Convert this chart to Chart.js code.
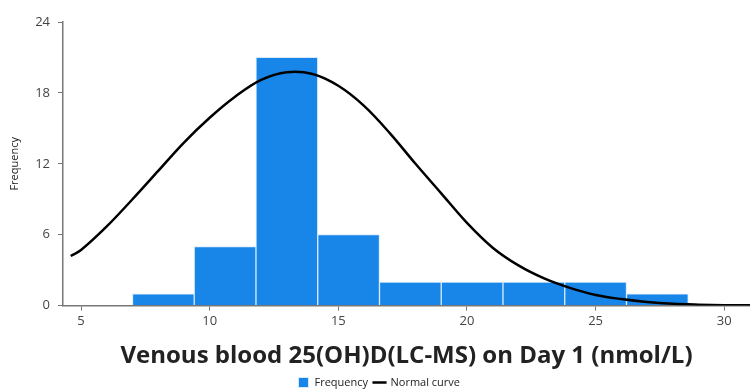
<!DOCTYPE html>
<html>
<head>
<meta charset="utf-8">
<script src="https://cdn.jsdelivr.net/npm/chart.js@4"></script>
<style>
  html, body { margin: 0; padding: 0; background: #ffffff; }
  #wrap { width: 750px; height: 389px; }
</style>
</head>
<body>
<div id="wrap"><canvas id="grafico"></canvas></div>
<script>
// bin centres (bin width 2.4) and counts
const centrosBarras = [8.2, 10.6, 13.0, 15.4, 17.8, 20.2, 22.6, 25.0, 27.4];
const frecuencias = [1, 5, 21, 6, 2, 2, 2, 2, 1];

// normal curve
const curvaX = [4.6, 5, 6, 7, 8, 9, 10, 11, 12, 13, 14, 15, 16, 17, 18, 19, 20, 21, 22, 23, 24, 25, 26, 27, 28, 29, 30, 31];
const curvaY = [4.2, 4.7, 6.7, 9.0, 11.4, 13.8, 15.9, 17.7, 19.1, 19.75, 19.6, 18.6, 16.9, 14.6, 12.0, 9.5, 7.0, 4.9, 3.4, 2.3, 1.5, 0.9, 0.55, 0.3, 0.15, 0.08, 0.04, 0.02];

const ticksX = [5, 10, 15, 20, 25, 30];
const ticksY = [0, 6, 12, 18, 24];

const datosBarras = centrosBarras.map((c, i) => ({ x: c, y: frecuencias[i] }));
const datosCurva = curvaX.map((x, i) => ({ x: x, y: curvaY[i] }));

const fuente = "'Open Sans', 'DejaVu Sans', sans-serif";

new Chart(document.getElementById("grafico"), {
    data: {
        datasets: [
            {
                type: 'line',
                label: 'Normal curve',
                data: datosCurva,
                borderColor: '#000000',
                backgroundColor: '#000000',
                borderWidth: 2.5,
                pointRadius: 0,
                pointStyle: 'line',
                tension: 0.35,
                fill: false,
                order: 0
            },
            {
                type: 'bar',
                label: 'Frequency',
                data: datosBarras,
                backgroundColor: '#1886e8',
                borderColor: '#d6e9fb',
                borderWidth: 1,
                borderSkipped: 'bottom',
                pointStyle: 'rect',
                barPercentage: 1.0,
                categoryPercentage: 1.0,
                order: 1
            }
        ]
    },
    options: {
        responsive: true,
        maintainAspectRatio: false,
        animation: false,
        layout: { padding: { top: 22, right: 0, left: 8, bottom: -9 } },
        plugins: {
            legend: {
                position: 'bottom',
                reverse: true,
                labels: {
                    font: { family: fuente, size: 11 },
                    color: '#222',
                    boxWidth: 14,
                    boxHeight: 10,
                    padding: 6,
                    usePointStyle: true
                }
            },
            tooltip: { enabled: false }
        },
        scales: {
            x: {
                type: 'linear',
                offset: false,
                min: 4.3,
                max: 31.0,
                afterBuildTicks: (eje) => { eje.ticks = ticksX.map(v => ({ value: v })); },
                grid: { display: true, offset: false, drawOnChartArea: false, drawTicks: true, tickLength: 5, color: '#777' },
                border: { display: true, color: '#777', width: 1.5 },
                ticks: { color: '#444', font: { family: fuente, size: 13 }, padding: 3, maxRotation: 0 },
                title: {
                    display: true,
                    text: 'Venous blood 25(OH)D(LC-MS) on Day 1 (nmol/L)',
                    color: '#222',
                    font: { family: fuente, size: 24, weight: 'bold' },
                    padding: { top: 10, bottom: 0 }
                }
            },
            y: {
                min: 0,
                max: 24,
                afterBuildTicks: (eje) => { eje.ticks = ticksY.map(v => ({ value: v })); },
                grid: { display: true, drawOnChartArea: false, drawTicks: true, tickLength: 5, color: '#777' },
                border: { display: true, color: '#777', width: 1.5 },
                ticks: { color: '#444', font: { family: fuente, size: 13 }, padding: 8 },
                title: {
                    display: true,
                    text: 'Frequency',
                    color: '#222',
                    font: { family: fuente, size: 11 },
                    padding: { top: 0, bottom: 4 }
                },
                afterFit: (eje) => { eje.width = 55; }
            }
        }
    }
});
</script>
</body>
</html>
